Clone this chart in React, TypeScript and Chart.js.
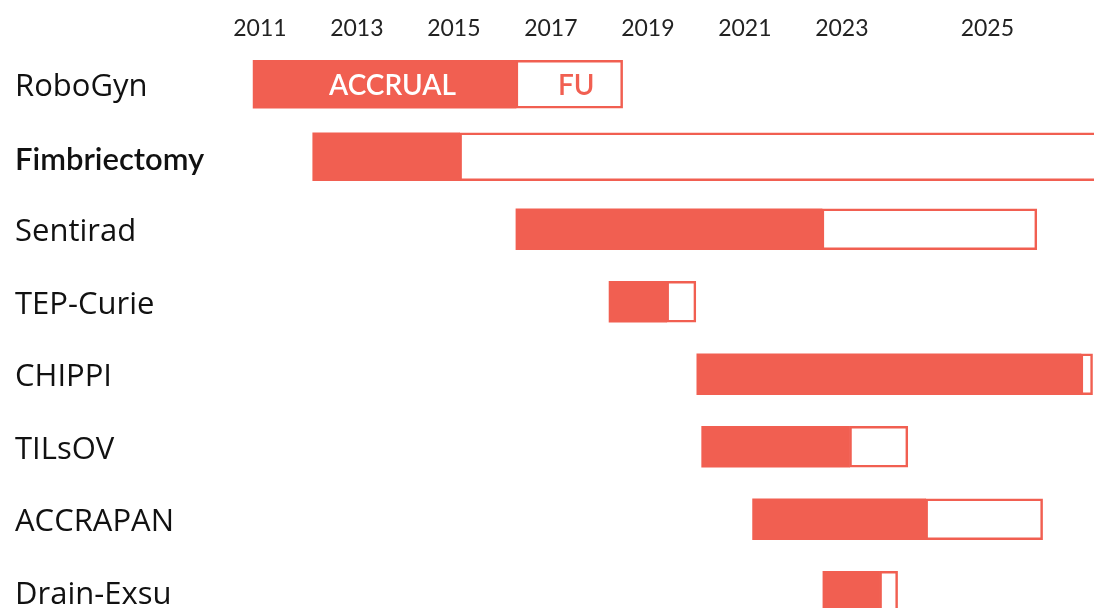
import React, { useEffect, useRef } from 'react';
import { Chart, registerables } from 'chart.js';

Chart.register(...registerables);

const studies = ['RoboGyn', 'Fimbriectomy', 'Sentirad', 'TEP-Curie', 'CHIPPI', 'TILsOV', 'ACCRAPAN', 'Drain-Exsu'];
const accrualStart = [2010.86, 2012.09, 2016.28, 2018.2, 2020.01, 2020.11, 2021.16, 2022.61];
const accrualEnd = [2016.28, 2015.12, 2022.59, 2019.39, 2027.93, 2023.16, 2024.73, 2023.78];
const followUpEnd = [2018.48, 2029.5, 2027.02, 2019.99, 2028.17, 2024.36, 2027.14, 2024.15];
const axisTickValues = [2011, 2013, 2015, 2017, 2019, 2021, 2023, 2026];
const axisTickLabels = ['2011', '2013', '2015', '2017', '2019', '2021', '2023', '2025'];
const phaseLabels = ['ACCRUAL', 'FU'];
const labelledStudy = 'RoboGyn';
const wideRows = ['RoboGyn', 'Fimbriectomy'];

const CORAL = '#F15F51';

export default function App() {
  const ref = useRef<HTMLCanvasElement | null>(null);

  useEffect(() => {
    if (!ref.current) return;
    const pick = (wide: boolean, a: number[], b: number[]) =>
      studies.map((s, i) => (wideRows.includes(s) === wide ? [a[i], b[i]] : null));

    const labelPlugin = {
      id: 'phaseLabels',
      afterDatasetsDraw(chart: any) {
        const idx = studies.indexOf(labelledStudy);
        const wide = wideRows.includes(labelledStudy);
        const accMeta = chart.getDatasetMeta(wide ? 0 : 2);
        const fuMeta = chart.getDatasetMeta(wide ? 1 : 3);
        const a = accMeta.data[idx];
        const f = fuMeta.data[idx];
        const ctx = chart.ctx;
        ctx.save();
        ctx.font = '600 28px Lato';
        ctx.textAlign = 'center';
        ctx.textBaseline = 'middle';
        if (a) {
          ctx.fillStyle = '#ffffff';
          ctx.fillText(phaseLabels[0], (a.x + a.base) / 2 + 8, a.y + 2);
        }
        if (f) {
          ctx.fillStyle = CORAL;
          ctx.fillText(phaseLabels[1], (f.x + f.base) / 2 + 7, f.y + 2);
        }
        ctx.restore();
      },
    };

    const chart = new Chart(ref.current, {
      type: 'bar',
      data: {
        labels: studies,
        datasets: [
          {
            label: 'Accrual',
            data: pick(true, accrualStart, accrualEnd) as any,
            backgroundColor: CORAL,
            borderWidth: 0,
            barThickness: 48,
            grouped: false,
          },
          {
            label: 'FU',
            data: pick(true, accrualEnd, followUpEnd) as any,
            backgroundColor: '#ffffff',
            borderColor: CORAL,
            borderWidth: 2.5,
            borderSkipped: false,
            barThickness: 48,
            grouped: false,
          },
          {
            label: 'Accrual',
            data: pick(false, accrualStart, accrualEnd) as any,
            backgroundColor: CORAL,
            borderWidth: 0,
            barThickness: 41,
            grouped: false,
          },
          {
            label: 'FU',
            data: pick(false, accrualEnd, followUpEnd) as any,
            backgroundColor: '#ffffff',
            borderColor: CORAL,
            borderWidth: 2.5,
            borderSkipped: false,
            barThickness: 41,
            grouped: false,
          },
        ] as any,
      },
      options: {
        indexAxis: 'y',
        animation: false,
        responsive: false,
        events: [],
        layout: { padding: { left: 15, right: 0, top: 0, bottom: 0 } },
        plugins: { legend: { display: false }, tooltip: { enabled: false } },
        scales: {
          x: {
            type: 'linear',
            position: 'top',
            min: 2010.59,
            max: 2028.2,
            grid: { display: false, drawTicks: false },
            border: { display: false },
            afterBuildTicks: (scale: any) => {
              scale.ticks = axisTickValues.map((v) => ({ value: v }));
            },
            afterFit: (scale: any) => {
              scale.height = 48;
            },
            ticks: {
              autoSkip: false,
              maxRotation: 0,
              padding: 6,
              color: '#222222',
              font: { family: 'Lato', size: 23 },
              callback: (_v: any, i: number) => axisTickLabels[i],
            },
          },
          y: {
            type: 'category',
            grid: { display: false, drawTicks: false },
            border: { display: false },
            afterFit: (scale: any) => {
              scale.width = 225;
              scale.paddingTop = 0;
              scale.paddingBottom = 0;
            },
            ticks: {
              crossAlign: 'far',
              color: '#111111',
              padding: 0,
              labelOffset: 3,
              font: (ctx: any) =>
                ctx.index === 1
                  ? { family: 'Lato', size: 31, weight: '600' }
                  : { family: 'Open Sans', size: 31 },
            },
          },
        },
      } as any,
      plugins: [labelPlugin],
    });
    return () => chart.destroy();
  }, []);

  return (
    <div style={{ position: 'fixed', top: 0, left: 0, width: 1094, height: 608, overflow: 'hidden', background: '#fff' }}>
      <canvas ref={ref} width={1094} height={628} style={{ display: 'block' }} />
    </div>
  );
}
